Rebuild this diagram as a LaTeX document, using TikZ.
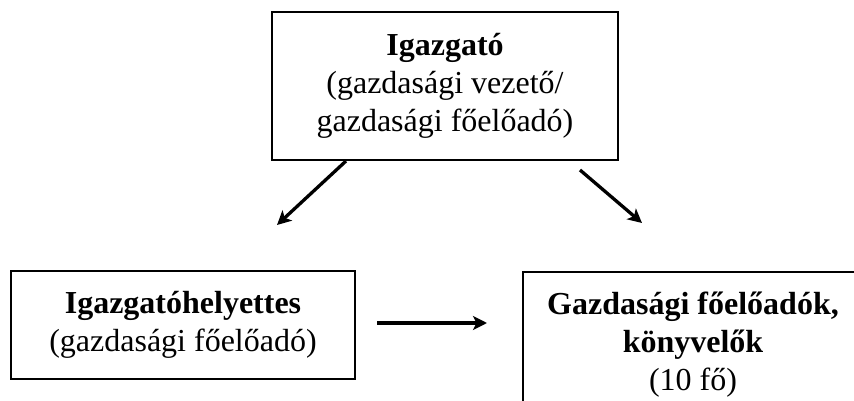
\documentclass[tikz,border=0pt]{standalone}
\usepackage{fontspec}
\setmainfont{Liberation Serif}
\usetikzlibrary{arrows.meta}

\begin{document}
\begin{tikzpicture}[->,>={Stealth[length=14pt,width=14pt,inset=3.5pt]}, x=1pt, y=-1pt, line width=3.3pt,
  unitbox/.style={rectangle, draw=black, line width=2pt, align=center,
    font=\fontsize{32}{38}\selectfont, inner sep=0pt}]
\useasboundingbox (0,0) rectangle (854,401);
\clip (0,0) rectangle (854,401);

\node[unitbox, minimum width=346pt, minimum height=148pt] (igazgato) at (445,86)
{\textbf{Igazgató}\\
 (gazdasági vezető/\\
 gazdasági főelőadó)};

\node[unitbox, minimum width=344pt, minimum height=108pt] (helyettes) at (183,325)
{\textbf{Igazgatóhelyettes}\\
 (gazdasági főelőadó)};

\node[unitbox, minimum width=340pt, minimum height=146pt] (eloadok) at (693,345)
{\textbf{Gazdasági főelőadók,}\\
 \textbf{könyvelők}\\
 (10 fő)};

\coordinate (bal) at (277,225);
\coordinate (jobb) at (642,223);
\coordinate (nyilkezd) at (377,323);
\coordinate (nyilveg) at (487,323);

\draw ([xshift=75pt]igazgato.south west) -- (bal);
\draw ([xshift=-39pt,yshift=-9pt]igazgato.south east) -- (jobb);
\draw (nyilkezd) -- (nyilveg);
\end{tikzpicture}
\end{document}
